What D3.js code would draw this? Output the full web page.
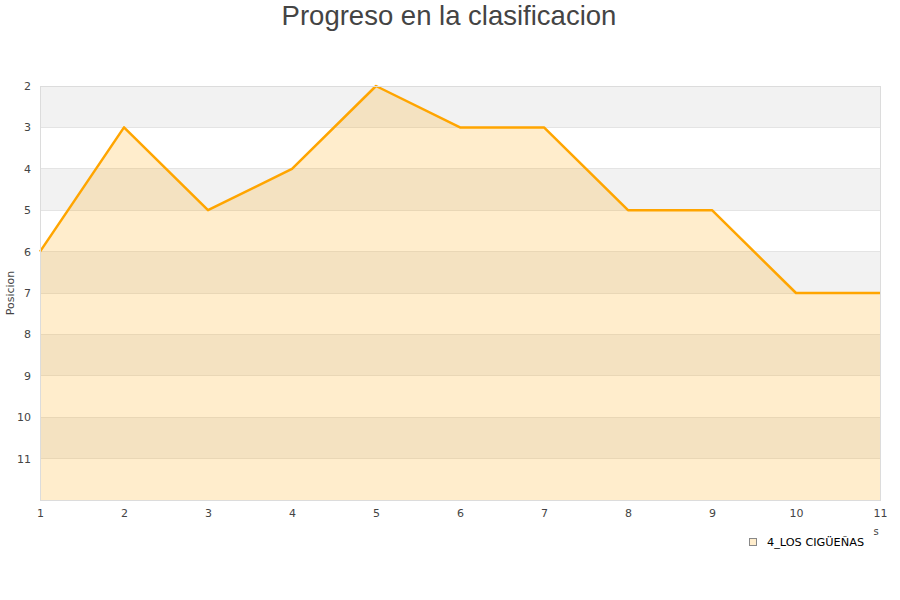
<!DOCTYPE html>
<html><head><meta charset="utf-8">
<script src="https://cdn.jsdelivr.net/npm/d3@7/dist/d3.min.js"></script>
<style>body{margin:0;background:#fff;} text{font-family:"DejaVu Sans",sans-serif;}</style>
</head><body><svg id="c" width="900" height="600"></svg>
<script>
const jornadas = [1,2,3,4,5,6,7,8,9,10,11];
const posiciones = [6,3,5,4,2,3,3,5,5,7,7];
const yTicks = [2,3,4,5,6,7,8,9,10,11];
const title = "Progreso en la clasificacion";
const yTitle = "Posicion";
const seriesName = "4_LOS CIGÜEÑAS";

const svg = d3.select("#c");
const L=40,R=880,T=86,B=500;
const x = d3.scaleLinear().domain([1,11]).range([L,R]);
const y = d3.scaleLinear().domain([2,12]).range([T,B]);

// bands
const bands = d3.range(2,12);
svg.selectAll("rect.band").data(bands).enter().append("rect")
  .attr("x",L).attr("width",R-L)
  .attr("y",d=>y(d)).attr("height",d=>y(d+1)-y(d))
  .attr("fill",d=>d%2===0?"#f2f2f2":"#ffffff");
svg.selectAll("line.grid").data(yTicks).enter().append("line")
  .attr("x1",L).attr("x2",R).attr("y1",d=>y(d)).attr("y2",d=>y(d))
  .attr("stroke","#e4e4e4").attr("stroke-width",1).attr("shape-rendering","crispEdges");

// area
const area = d3.area().x((d,i)=>x(jornadas[i])).y0(y(12)).y1(d=>y(d));
svg.append("path").datum(posiciones).attr("d",area).attr("fill","orange").attr("fill-opacity",0.2);
const line = d3.line().x((d,i)=>x(jornadas[i])).y(d=>y(d));
svg.append("path").datum(posiciones).attr("d",line).attr("fill","none")
  .attr("stroke","orange").attr("stroke-width",2.5).attr("stroke-linejoin","round");

// frame
svg.append("rect").attr("x",L).attr("y",T).attr("width",R-L).attr("height",B-T)
  .attr("fill","none").attr("stroke","#dcdcdc").attr("stroke-width",1).attr("shape-rendering","crispEdges");

// axes
const yAxis = d3.axisLeft(y).tickValues(yTicks).tickSize(0).tickPadding(9);
const gy = svg.append("g").attr("transform",`translate(${L},0)`).call(yAxis);
gy.select(".domain").remove();
gy.selectAll("text").attr("font-size",11).attr("fill","#444").style("font-family","DejaVu Sans, sans-serif");
const xAxis = d3.axisBottom(x).tickValues(jornadas).tickFormat(d3.format("d")).tickSize(0).tickPadding(9);
const gx = svg.append("g").attr("transform",`translate(0,${B})`).call(xAxis);
gx.select(".domain").remove();
gx.selectAll("text").attr("font-size",11).attr("fill","#444").style("font-family","DejaVu Sans, sans-serif");

// titles
svg.append("text").attr("x",449).attr("y",25).attr("text-anchor","middle")
  .style("font-family","Liberation Sans, Arial, sans-serif").attr("font-size",27.5).attr("fill","#444").text(title);
svg.append("text").attr("transform","translate(14,293) rotate(-90)").attr("text-anchor","middle")
  .attr("font-size",11).attr("fill","#444").text(yTitle);
svg.append("text").attr("x",876).attr("y",535).attr("text-anchor","middle").attr("font-size",10).attr("fill","#444").text("s");

// legend
svg.append("rect").attr("x",749.5).attr("y",538.5).attr("width",7).attr("height",7)
  .attr("fill","#ffedcc").attr("stroke","#888").attr("stroke-width",1);
svg.append("text").attr("x",767).attr("y",546).attr("font-size",11.3).attr("fill","#000").text(seriesName);
</script></body></html>
